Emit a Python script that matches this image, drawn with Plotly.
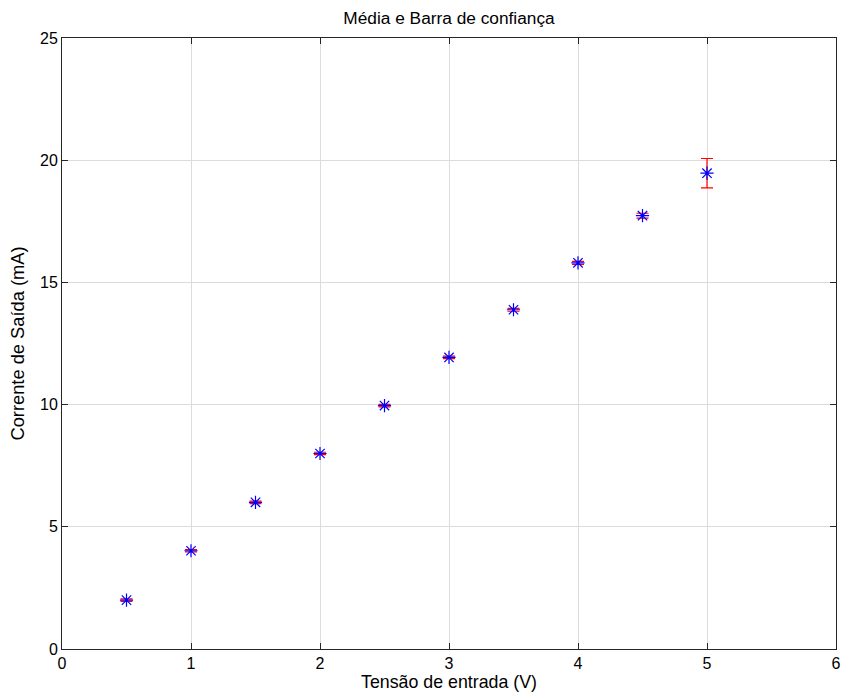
import plotly.graph_objects as go

x_vals = [0.5, 1.0, 1.5, 2.0, 2.5, 3.0, 3.5, 4.0, 4.5, 5.0]
y_means = [2.0, 4.02, 6.0, 8.0, 9.96, 11.93, 13.88, 15.8, 17.73, 19.47]
y_err_up = [0.05, 0.05, 0.05, 0.05, 0.05, 0.05, 0.06, 0.06, 0.1, 0.6]
y_err_down = [0.05, 0.05, 0.05, 0.05, 0.05, 0.05, 0.06, 0.06, 0.1, 0.6]
x_ticks = [0, 1, 2, 3, 4, 5, 6]
y_ticks = [0, 5, 10, 15, 20, 25]

FAM = "Liberation Sans, Arial, sans-serif"

fig = go.Figure()
fig.add_trace(go.Scatter(
    x=x_vals, y=y_means, mode="markers",
    marker=dict(symbol="asterisk-open", size=11, color="blue",
                line=dict(color="blue", width=1.2)),
    error_y=dict(type="data", symmetric=False, array=y_err_up, arrayminus=y_err_down,
                 color="red", thickness=1.2, width=6),
    showlegend=False,
))

fig.update_layout(
    width=843, height=699,
    margin=dict(l=62, r=7, t=38, b=50, autoexpand=False),
    paper_bgcolor="white", plot_bgcolor="white",
    font=dict(family=FAM, size=16, color="black"),
    title=dict(text="Média e Barra de confiança", x=(62 + 836) / 2 / 843, xanchor="center",
               y=0.983, yanchor="top", font=dict(size=17.3, family=FAM, color="black")),
)
fig.update_xaxes(range=[0, 6], tickvals=x_ticks, showgrid=True, gridcolor="#dcdcdc",
                 gridwidth=1, zeroline=False, showline=True, linecolor="#262626",
                 linewidth=1, mirror="ticks", ticks="inside", ticklen=6,
                 tickcolor="#262626", automargin=False,
                 title=dict(text="Tensão de entrada (V)", standoff=4,
                            font=dict(size=17.8, family=FAM, color="black")),
                 tickfont=dict(size=16, family=FAM, color="black"))
fig.update_yaxes(range=[0, 25], tickvals=y_ticks, showgrid=True, gridcolor="#dcdcdc",
                 gridwidth=1, zeroline=False, showline=True, linecolor="#262626",
                 linewidth=1, mirror="ticks", ticks="inside", ticklen=6,
                 tickcolor="#262626", automargin=False,
                 title=dict(text="Corrente de Saída (mA)", standoff=10,
                            font=dict(size=18.3, family=FAM, color="black")),
                 tickfont=dict(size=16, family=FAM, color="black"))

fig.write_html("out.html")
